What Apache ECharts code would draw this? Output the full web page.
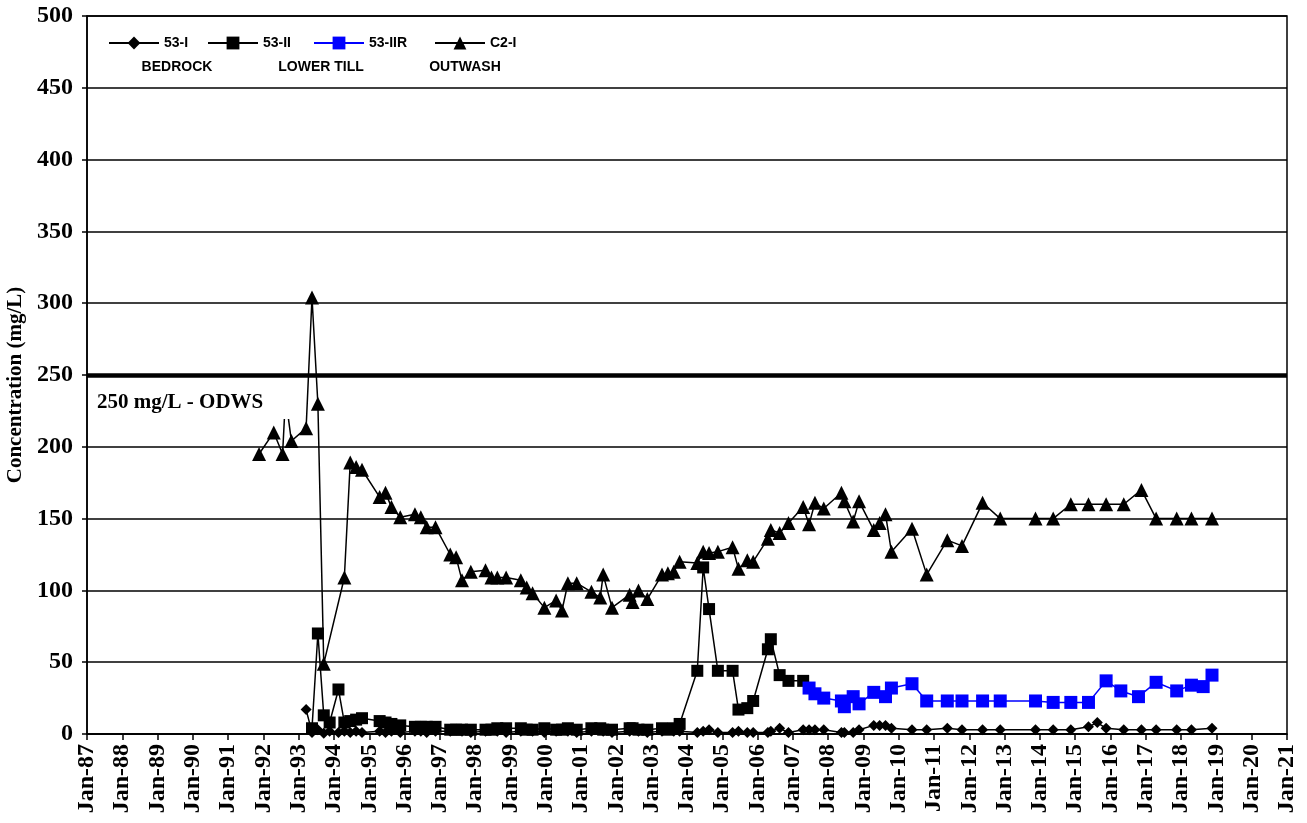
<!DOCTYPE html>
<html><head><meta charset="utf-8">
<script src="https://cdn.jsdelivr.net/npm/echarts@6/dist/echarts.min.js"></script>
<style>html,body{margin:0;padding:0;background:#fff}#c{width:1307px;height:823px}</style>
</head><body><div id="c"></div>
<script>
// ---- data ----
const xTickLabels = ['Jan-87','Jan-88','Jan-89','Jan-90','Jan-91','Jan-92','Jan-93','Jan-94','Jan-95','Jan-96','Jan-97','Jan-98','Jan-99','Jan-00','Jan-01','Jan-02','Jan-03','Jan-04','Jan-05','Jan-06','Jan-07','Jan-08','Jan-09','Jan-10','Jan-11','Jan-12','Jan-13','Jan-14','Jan-15','Jan-16','Jan-17','Jan-18','Jan-19','Jan-20','Jan-21'];

const c2iDates = ['1991-11','1992-04','1992-07','1992-08','1992-10','1993-03','1993-05','1993-07','1993-09','1994-04','1994-06','1994-08','1994-10','1995-04','1995-06','1995-08','1995-11','1996-04','1996-06','1996-08','1996-11','1997-04','1997-06','1997-08','1997-11','1998-04','1998-06','1998-08','1998-11','1999-04','1999-06','1999-08','1999-12','2000-04','2000-06','2000-08','2000-11','2001-04','2001-07','2001-08','2001-11','2002-05','2002-06','2002-08','2002-11','2003-04','2003-06','2003-08','2003-10','2004-04','2004-06','2004-08','2004-11','2005-04','2005-06','2005-09','2005-11','2006-04','2006-05','2006-08','2006-11','2007-04','2007-06','2007-08','2007-11','2008-05','2008-06','2008-09','2008-11','2009-04','2009-06','2009-08','2009-10','2010-05','2010-10','2011-05','2011-10','2012-05','2012-11','2013-11','2014-05','2014-11','2015-05','2015-11','2016-05','2016-11','2017-04','2017-11','2018-04','2018-11'];
const c2iValues = [195,210,195,235,204,213,304,230,49,109,189,186,184,165,168,158,151,153,151,144,144,125,123,107,113,114,109,109,109,107,102,98,88,93,86,105,105,99,95,111,88,97,92,100,94,111,112,113,120,119,127,126,127,130,115,121,120,136,142,140,147,158,146,161,157,168,162,148,162,142,147,153,127,143,111,135,131,161,150,150,150,160,160,160,160,170,150,150,150,150];

const s53iiDates = ['1993-05','1993-07','1993-09','1993-11','1994-02','1994-04','1994-06','1994-08','1994-10','1995-04','1995-06','1995-08','1995-11','1996-04','1996-06','1996-08','1996-11','1997-04','1997-06','1997-08','1997-11','1998-04','1998-06','1998-08','1998-11','1999-04','1999-06','1999-08','1999-12','2000-04','2000-06','2000-08','2000-11','2001-04','2001-07','2001-08','2001-11','2002-05','2002-06','2002-08','2002-11','2003-04','2003-06','2003-08','2003-10','2004-04','2004-06','2004-08','2004-11','2005-04','2005-06','2005-09','2005-11','2006-04','2006-05','2006-08','2006-11','2007-04'];
const s53iiValues = [4,70,13,8,31,8,9,10,11,9,8,7,6,5,5,5,5,3,3,3,3,3,3,4,4,4,3,3,4,3,3,4,3,4,4,3,3,4,4,3,3,4,3,4,7,44,116,87,44,44,17,18,23,59,66,41,37,37];

const s53iirDates = ['2007-06','2007-08','2007-11','2008-05','2008-06','2008-09','2008-11','2009-04','2009-08','2009-10','2010-05','2010-10','2011-05','2011-10','2012-05','2012-11','2013-11','2014-05','2014-11','2015-05','2015-11','2016-04','2016-10','2017-04','2017-11','2018-04','2018-08','2018-11'];
const s53iirValues = [32,28,25,23,19,26,21,29,26,32,35,23,23,23,23,23,23,22,22,22,37,30,26,36,30,34,33,41];

const s53iDates = ['1993-03','1993-05','1993-07','1993-09','1993-11','1994-02','1994-04','1994-06','1994-08','1994-10','1995-04','1995-06','1995-08','1995-11','1996-04','1996-06','1996-08','1996-11','1997-04','1997-08','1997-11','1998-04','1998-08','1998-11','1999-04','1999-08','1999-12','2000-04','2000-08','2000-11','2001-04','2001-08','2001-11','2002-05','2002-08','2002-11','2003-04','2003-08','2003-10','2004-04','2004-06','2004-08','2004-11','2005-04','2005-06','2005-09','2005-11','2006-04','2006-05','2006-08','2006-11','2007-04','2007-06','2007-08','2007-11','2008-05','2008-06','2008-09','2008-11','2009-04','2009-06','2009-08','2009-10','2010-05','2010-10','2011-05','2011-10','2012-05','2012-11','2013-11','2014-05','2014-11','2015-05','2015-08','2015-11','2016-05','2016-11','2017-04','2017-11','2018-04','2018-11'];
const s53iValues = [17,1,3,0.5,2,1,2,1,2,1,2,1,2,1,2,2,1,2,2,2,1,2,2,1,2,2,1,2,2,1,2,2,1,2,2,1,2,2,2,1,2,3,1,1,2,1,1,1,2,4,1,3,3,3,3,1,1,1,3,6,6,6,4,3,3,4,3,3,3,3,3,3,5,8,4,3,3,3,3,3,4];

const odwsLimit = 250;

// ---- helpers ----
function toYear(s){const p=s.split('-');return +p[0]+(+p[1]-0.5)/12;}
function pairs(d,v){return d.map((s,i)=>[toYear(s),v[i]]);}

const SERIF='"Liberation Serif", "Times New Roman", serif';
const SANS='"Liberation Sans", Arial, sans-serif';

const chart = echarts.init(document.getElementById('c'), null, {renderer:'canvas'});

const legendBase = {orient:'horizontal', padding:0, itemWidth:50, itemHeight:16, itemGap:0,
  textStyle:{fontFamily:SANS, fontWeight:'bold', fontSize:14, color:'#000'}, selectedMode:false};

chart.setOption({
  animation:false,
  backgroundColor:'#fff',
  grid:{left:87, right:20, top:16, bottom:89, containLabel:false, outerBoundsMode:'none',
    show:true, borderColor:'#000', borderWidth:1.5, backgroundColor:'transparent'},
  legend:[
    Object.assign({}, legendBase, {data:['53-I'], left:108, top:36}),
    Object.assign({}, legendBase, {data:['53-II'], left:207, top:36}),
    Object.assign({}, legendBase, {data:['53-IIR'], left:313, top:36}),
    Object.assign({}, legendBase, {data:['C2-I'], left:434, top:36})
  ],
  xAxis:{
    type:'value', min:1987, max:2021, interval:1,
    axisLine:{lineStyle:{color:'#000', width:1.5}},
    axisTick:{show:true, inside:false, length:6, lineStyle:{color:'#000', width:1.5}},
    splitLine:{show:false},
    axisLabel:{rotate:90, margin:10, color:'#000', fontFamily:SERIF, fontWeight:'bold', fontSize:24,
      formatter:function(v){return xTickLabels[Math.round(v-1987)]||'';}}
  },
  yAxis:{
    type:'value', min:0, max:500, interval:50,
    name:'Concentration (mg/L)', nameLocation:'middle', nameGap:55,
    nameTextStyle:{color:'#000', fontFamily:SERIF, fontWeight:'bold', fontSize:21, padding:[0,20,0,0]},
    axisLine:{show:true, lineStyle:{color:'#000', width:1.5}},
    axisTick:{show:true, inside:false, length:5, lineStyle:{color:'#000', width:1.5}},
    splitLine:{show:true, lineStyle:{color:'#000', width:1.5}},
    axisLabel:{margin:14, color:'#000', fontFamily:SERIF, fontWeight:'bold', fontSize:24}
  },
  series:[
    {name:'53-I', type:'line', data:pairs(s53iDates, s53iValues), symbol:'diamond', symbolSize:11,
      lineStyle:{color:'#000', width:1.5}, itemStyle:{color:'#000'}, z:3},
    {name:'53-II', type:'line', data:pairs(s53iiDates, s53iiValues), symbol:'rect', symbolSize:12,
      lineStyle:{color:'#000', width:1.5}, itemStyle:{color:'#000'}, z:4},
    {name:'53-IIR', type:'line', data:pairs(s53iirDates, s53iirValues), symbol:'rect', symbolSize:13,
      lineStyle:{color:'#0000FF', width:1.5}, itemStyle:{color:'#0000FF'}, z:5},
    {name:'C2-I', type:'line', data:pairs(c2iDates, c2iValues), symbol:'triangle', symbolSize:14,
      lineStyle:{color:'#000', width:1.5}, itemStyle:{color:'#000'}, z:6,
      markLine:{silent:true, symbol:'none', label:{show:false},
        lineStyle:{color:'#000', width:4.5, type:'solid'}, data:[{yAxis:odwsLimit}]}}
  ],
  graphic:[
    {type:'rect', z:100, shape:{x:90, y:388, width:205, height:31}, style:{fill:'#fff'}},
    {type:'text', z:101, x:97, y:403, style:{text:'250 mg/L - ODWS', font:'bold 21px '+SERIF, fill:'#000', align:'left', verticalAlign:'middle'}},
    {type:'text', z:101, x:177, y:67, style:{text:'BEDROCK', font:'bold 14px '+SANS, fill:'#000', align:'center', verticalAlign:'middle'}},
    {type:'text', z:101, x:321, y:67, style:{text:'LOWER TILL', font:'bold 14px '+SANS, fill:'#000', align:'center', verticalAlign:'middle'}},
    {type:'text', z:101, x:465, y:67, style:{text:'OUTWASH', font:'bold 14px '+SANS, fill:'#000', align:'center', verticalAlign:'middle'}}
  ]
});
</script></body></html>
